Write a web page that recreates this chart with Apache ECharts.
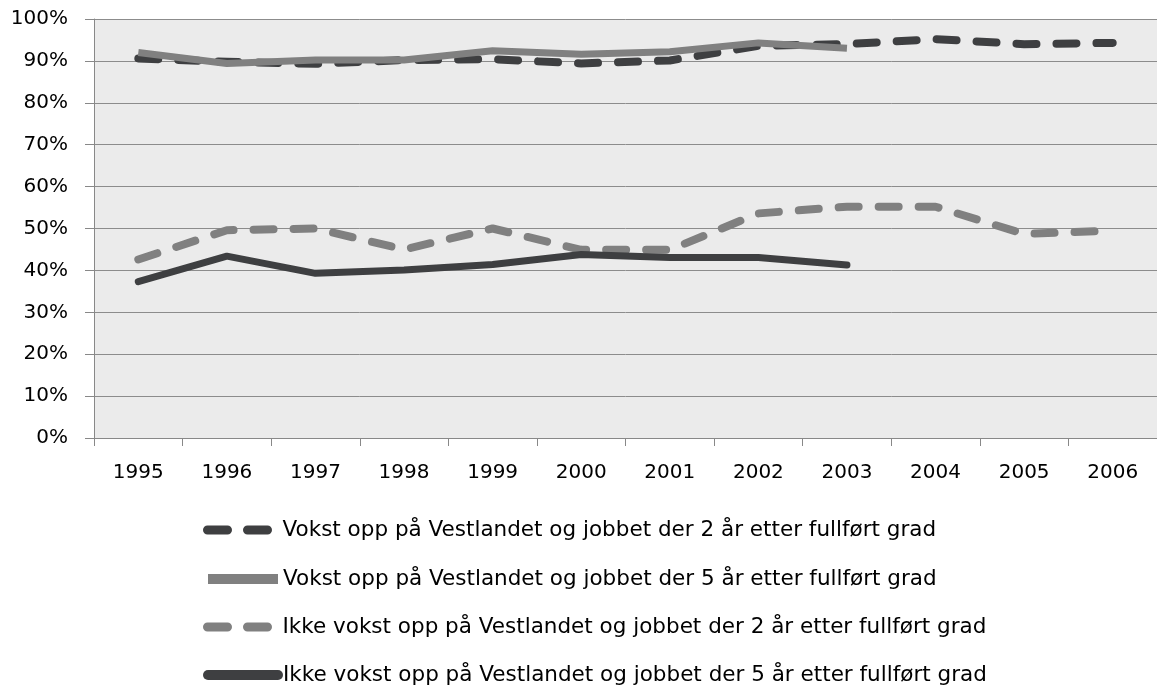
<!DOCTYPE html>
<html>
<head>
<meta charset="utf-8">
<script src="https://cdn.jsdelivr.net/npm/echarts@6/dist/echarts.min.js"></script>
<style>
  html, body { margin: 0; padding: 0; background: #fff; }
  #chart { width: 1157px; height: 685px; }
</style>
</head>
<body>
<div id="chart"></div>
<script>
const years = ['1995', '1996', '1997', '1998', '1999', '2000', '2001', '2002', '2003', '2004', '2005', '2006'];
const names = [
  'Vokst opp på Vestlandet og jobbet der 2 år etter fullført grad',
  'Vokst opp på Vestlandet og jobbet der 5 år etter fullført grad',
  'Ikke vokst opp på Vestlandet og jobbet der 2 år etter fullført grad',
  'Ikke vokst opp på Vestlandet og jobbet der 5 år etter fullført grad',
];
// values in percent
const vest2 = [90.6, 89.8, 89.3, 90.2, 90.4, 89.4, 90.1, 93.6, 94.0, 95.2, 94.0, 94.3];
const vest5 = [92.0, 89.4, 90.2, 90.2, 92.4, 91.6, 92.2, 94.3, 93.0];
const ikke2 = [42.6, 49.6, 50.0, 45.0, 50.0, 44.9, 44.9, 53.6, 55.2, 55.2, 48.7, 49.5];
const ikke5 = [37.3, 43.4, 39.3, 40.1, 41.4, 43.8, 43.1, 43.1, 41.3];

const dark = '#3e3f41';
const grey = '#808080';
const font = '"DejaVu Sans", sans-serif';

const chart = echarts.init(document.getElementById('chart'));

// one legend per row so the rows sit where the reference has them
const legendTops = [519, 568, 616, 664];
const legendWidths = [9, 10, 9, 10];
const legends = names.map((n, i) => ({
  orient: 'vertical',
  left: 203,
  top: legendTops[i],
  padding: 0,
  itemWidth: 70,
  itemHeight: 16,
  itemStyle: { color: 'transparent', borderWidth: 0, opacity: 0 },
  textStyle: { fontSize: 21.5, color: '#000', fontFamily: font },
  data: [{ name: n, lineStyle: { width: legendWidths[i] } }],
}));

const option = {
  animation: false,
  textStyle: { fontFamily: font },
  grid: {
    left: 94,
    top: 19,
    width: 1069,
    height: 419,
    show: true,
    backgroundColor: '#ebebeb',
    borderWidth: 0,
  },
  legend: legends,
  xAxis: {
    type: 'category',
    data: years,
    boundaryGap: true,
    axisLine: { show: true, lineStyle: { color: '#888', width: 1 } },
    axisTick: { show: true, length: 8, lineStyle: { color: '#888' } },
    axisLabel: { fontSize: 20, color: '#000', margin: 25, fontFamily: font },
    splitLine: { show: false },
  },
  yAxis: {
    type: 'value',
    min: 0,
    max: 100,
    interval: 10,
    axisLine: { show: true, lineStyle: { color: '#888', width: 1 } },
    axisTick: { show: true, length: 9, lineStyle: { color: '#888' } },
    axisLabel: { fontSize: 20, color: '#000', margin: 26, formatter: '{value}%', fontFamily: font },
    splitLine: { show: true, lineStyle: { color: '#8c8c8c', width: 1 } },
  },
  series: [
    {
      name: names[0],
      type: 'line',
      data: vest2,
      symbol: 'none',
      color: dark,
      lineStyle: { color: dark, width: 8, type: [20, 20], cap: 'round', join: 'round' },
    },
    {
      name: names[1],
      type: 'line',
      data: vest5,
      symbol: 'none',
      color: grey,
      lineStyle: { color: grey, width: 7, cap: 'butt', join: 'round' },
    },
    {
      name: names[2],
      type: 'line',
      data: ikke2,
      symbol: 'none',
      color: grey,
      lineStyle: { color: grey, width: 8, type: [20, 20], cap: 'round', join: 'round' },
    },
    {
      name: names[3],
      type: 'line',
      data: ikke5,
      symbol: 'none',
      color: dark,
      lineStyle: { color: dark, width: 7, cap: 'round', join: 'round' },
    },
  ],
};

chart.setOption(option);
</script>
</body>
</html>
